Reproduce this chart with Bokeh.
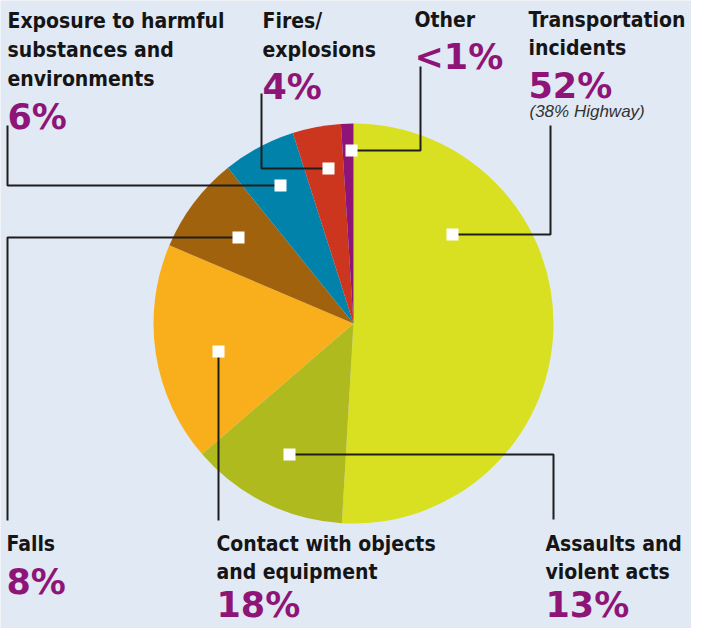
import math
from bokeh.plotting import figure
from bokeh.models import Range1d, ColumnDataSource
from bokeh.core.properties import value
from bokeh.embed import file_html
from bokeh.resources import INLINE

# ---- data (clockwise from 12 o'clock) ----
categories = ["Transportation incidents", "Assaults and violent acts",
              "Contact with objects and equipment", "Falls",
              "Exposure to harmful substances and environments",
              "Fires/explosions", "Other"]
shares = [50.9, 12.75, 17.7, 7.8, 5.9, 3.9, 1.0]
pct_labels = ["52%", "13%", "18%", "8%", "6%", "4%", "<1%"]
colors = ["#d8e021", "#afba1f", "#f9ae1b", "#a0620c", "#0082aa", "#cc361f", "#8e1577"]
name_lines = [["Transportation", "incidents"], ["Assaults and", "violent acts"],
              ["Contact with objects", "and equipment"], ["Falls"],
              ["Exposure to harmful", "substances and", "environments"],
              ["Fires/", "explosions"], ["Other"]]
sub_note = "(38% Highway)"

W, H = 691, 628
BG = "#e1e9f4"
PURPLE = "#8e1577"
X0, Y0 = 3, 7   # reference pixel shown at the figure's top-left

def Y(img_y):
    return 644 - img_y

# data coordinates == reference pixel coordinates (y flipped)
p = figure(width=W, height=H, output_backend="svg", toolbar_location=None,
           x_range=Range1d(X0, X0 + W), y_range=Range1d(Y(Y0 + H), Y(Y0)),
           min_border=0, background_fill_color=BG, border_fill_color=BG)
p.axis.visible = False
p.grid.visible = False
p.outline_line_color = None

# ---- pie ----
cx, cy, r = 356, Y(330), 200
total = sum(shares)
starts, ends = [], []
cum = 0.0
for s in shares:
    starts.append(math.pi / 2 - 2 * math.pi * cum / total)
    cum += s
    ends.append(math.pi / 2 - 2 * math.pi * cum / total)
src = ColumnDataSource(dict(start=starts, end=ends, color=colors))
p.wedge(x=cx, y=cy, radius=r, start_angle="start", end_angle="end",
        direction="clock", fill_color="color", line_color=None, source=src)

# ---- leader lines (reference pixel coordinates) ----
leaders = [
    [(455, 241), (553, 241), (553, 132)],   # Transportation
    [(292, 461), (556, 461), (556, 526)],   # Assaults
    [(221, 358), (221, 527)],               # Contact
    [(241, 244), (10, 244), (10, 527)],     # Falls
    [(283, 192), (10, 192), (10, 132)],     # Exposure
    [(331, 175), (264, 175), (264, 100)],   # Fires
    [(354, 157), (423, 157), (423, 73)],    # Other
]
for path in leaders:
    p.line([pt[0] for pt in path], [Y(pt[1]) for pt in path],
           line_color="#1e1e1e", line_width=2)

markers = [path[0] for path in leaders]
p.scatter([m[0] for m in markers], [Y(m[1]) for m in markers], marker="square",
          size=12, fill_color="white", line_color=None)

# ---- labels ----
label_pos = [  # x, first baseline, line step, pct baseline
    (531, 26, 28, 92),
    (548, 550, 28, 611),
    (219, 550, 28, 611),
    (9, 550, 28, 588),
    (10, 27, 29, 123),
    (265, 27, 29, 93),
    (417, 26, 29, 63),
]
tx, ty, tt = [], [], []
px, py, pt_ = [], [], []
for (x, b0, step, pb), lines, pl in zip(label_pos, name_lines, pct_labels):
    for i, ln in enumerate(lines):
        tx.append(x); ty.append(Y(b0 + i * step)); tt.append(ln)
    px.append(x); py.append(Y(pb)); pt_.append(pl)

p.text(tx, ty, text=tt, text_font=value("DejaVu Sans Condensed"),
       text_font_style="bold", text_font_size="21px", text_color="#151515",
       text_baseline="alphabetic", text_align="left")
p.text(px, py, text=pt_, text_font=value("DejaVu Sans"),
       text_font_style="bold", text_font_size="35px", text_color=PURPLE,
       text_baseline="alphabetic", text_align="left")
p.text([532], [Y(118)], text=[sub_note], text_font=value("Liberation Sans"),
       text_font_style="italic", text_font_size="17px", text_color="#333333",
       text_baseline="alphabetic", text_align="left")

open("out.html", "w").write(file_html(p, INLINE))
